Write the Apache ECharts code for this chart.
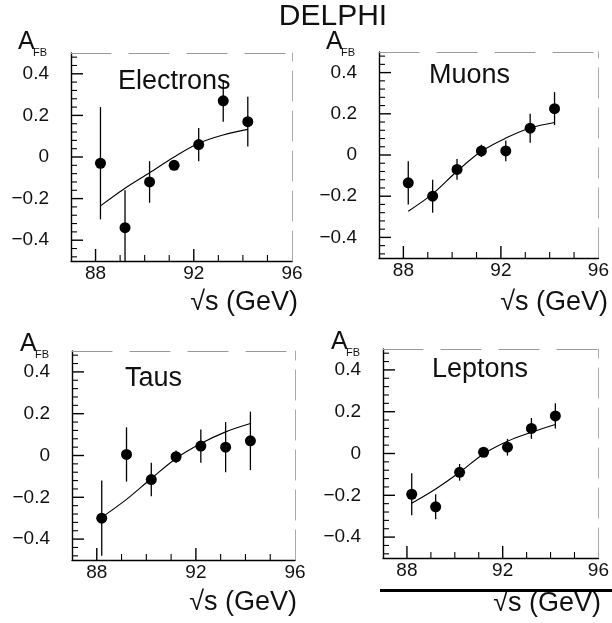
<!DOCTYPE html>
<html><head><meta charset="utf-8">
<script src="https://cdn.jsdelivr.net/npm/echarts@6/dist/echarts.min.js"></script>
<style>html,body{margin:0;padding:0;background:#fff}#c{width:612px;height:623px}</style>
</head><body><div id="c"></div>
<script>
// ---- data ----
const energies = [88.2, 89.2, 90.2, 91.2, 92.2, 93.2, 94.2];

const electronsA   = [-0.03, -0.34, -0.12, -0.04, 0.06, 0.27, 0.17];
const electronsErr = [0.27, 0.18, 0.10, 0.02, 0.08, 0.10, 0.12];
const electronsFit = [-0.235, -0.15, -0.076, 0.0, 0.066, 0.106, 0.133];

const muonsA   = [-0.135, -0.20, -0.07, 0.02, 0.02, 0.13, 0.225];
const muonsErr = [0.105, 0.08, 0.05, 0.03, 0.05, 0.07, 0.08];
const muonsFit = [-0.273, -0.189, -0.079, 0.018, 0.082, 0.131, 0.158];

const tausA   = [-0.30, 0.005, -0.115, -0.006, 0.045, 0.04, 0.07];
const tausErr = [0.18, 0.13, 0.08, 0.03, 0.08, 0.12, 0.14];
const tausFit = [-0.296, -0.21, -0.11, -0.014, 0.057, 0.113, 0.153];

const leptonsA   = [-0.195, -0.255, -0.09, 0.006, 0.03, 0.12, 0.18];
const leptonsErr = [0.10, 0.06, 0.04, 0.02, 0.04, 0.05, 0.06];
const leptonsFit = [-0.238, -0.17, -0.09, -0.002, 0.059, 0.102, 0.139];

const xTickLabels = [88, 92, 96];
const xMajorTicks = [88, 92];
const xMinorTicks = [89, 90, 91, 93, 94, 95];
const yTickLabels = [-0.4, -0.2, 0, 0.2, 0.4];
const panelNames = ['Electrons', 'Muons', 'Taus', 'Leptons'];
const xTitle = '√s (GeV)';

// ---- layout ----
const FONT = 'Liberation Sans';
const INK = '#111';
const X_MIN = 87, X_MAX = 96, Y_MIN = -0.5, Y_MAX = 0.5;
const panels = [
  {name: panelNames[0], a: electronsA, err: electronsErr, fit: electronsFit,
   grid: {left: 71, top: 53, width: 221, height: 208},
   title: [118, 82], afb: [18, 42], xt: [298, 303]},
  {name: panelNames[1], a: muonsA, err: muonsErr, fit: muonsFit,
   grid: {left: 379, top: 52, width: 220, height: 206},
   title: [429, 76], afb: [326, 42], xt: [608, 303]},
  {name: panelNames[2], a: tausA, err: tausErr, fit: tausFit,
   grid: {left: 72, top: 351, width: 223, height: 209},
   title: [125, 379], afb: [20, 344], xt: [297, 603]},
  {name: panelNames[3], a: leptonsA, err: leptonsErr, fit: leptonsFit,
   grid: {left: 383, top: 349, width: 218, height: 209},
   title: [432, 370], afb: [331, 342], xt: [601, 604]}
];

function yMinorList() {
  const out = [];
  for (let k = -12; k <= 12; k++) {
    if (Math.abs(k) % 5 !== 0) out.push(Math.round(k * 4) / 100);
  }
  return out;
}
// tick marks: [xValue, yValue, kind(0 major / 1 minor), dir(0 = x-axis, 1 = y-axis)]
function tickItems() {
  const t = [];
  xMajorTicks.forEach(v => t.push([v, Y_MIN, 0, 0]));
  xMinorTicks.forEach(v => t.push([v, Y_MIN, 1, 0]));
  yTickLabels.forEach(v => t.push([X_MIN, v, 0, 1]));
  yMinorList().forEach(v => t.push([X_MIN, v, 1, 1]));
  return t;
}
const TICK_LEN = [12, 6];

const fmtY = v => v === 0 ? '0' : (v < 0 ? '−' : '') + Math.abs(v).toFixed(1);

const grids = [], xAxes = [], yAxes = [], series = [], graphics = [];

panels.forEach((p, i) => {
  grids.push(Object.assign({}, p.grid));
  const xb = xAxes.length, yb = yAxes.length;
  xAxes.push({type: 'value', gridIndex: i, position: 'bottom', min: X_MIN, max: X_MAX, splitLine: {show: false},
    axisLine: {show: true, onZero: false, lineStyle: {color: '#000', width: 1.4}},
    axisTick: {show: false},
    axisLabel: {show: true, customValues: xTickLabels.slice(), margin: 3, fontSize: 19, fontFamily: FONT, color: INK}});
  yAxes.push({type: 'value', gridIndex: i, position: 'left', min: Y_MIN, max: Y_MAX, splitLine: {show: false},
    axisLine: {show: true, onZero: false, lineStyle: {color: '#000', width: 1.4}},
    axisTick: {show: false},
    axisLabel: {show: true, customValues: yTickLabels.slice(), margin: 22, fontSize: 19, fontFamily: FONT, color: INK, formatter: fmtY}});
  xAxes.push({type: 'value', gridIndex: i, position: 'top', min: X_MIN, max: X_MAX, splitLine: {show: false},
    axisLine: {show: true, onZero: false, lineStyle: {color: '#999', width: 1, type: [40, 18]}},
    axisTick: {show: false}, axisLabel: {show: false}});
  yAxes.push({type: 'value', gridIndex: i, position: 'right', min: Y_MIN, max: Y_MAX, splitLine: {show: false},
    axisLine: {show: true, onZero: false, lineStyle: {color: '#aaa', width: 1, type: [30, 10]}},
    axisTick: {show: false}, axisLabel: {show: false}});

  // tick marks placed through the axes' scales
  series.push({type: 'custom', xAxisIndex: xb, yAxisIndex: yb, z: 1, silent: true,
    data: tickItems(),
    renderItem: (params, api) => {
      const pt = api.coord([api.value(0), api.value(1)]);
      const len = TICK_LEN[api.value(2)];
      const vertical = api.value(3) === 0;
      return {type: 'line',
        shape: vertical ? {x1: pt[0], y1: pt[1], x2: pt[0], y2: pt[1] - len}
                        : {x1: pt[0], y1: pt[1], x2: pt[0] + len, y2: pt[1]},
        style: {stroke: '#000', lineWidth: api.value(2) === 0 ? 1.4 : 1.1}};
    }});
  series.push({type: 'line', xAxisIndex: xb, yAxisIndex: yb, smooth: 0.35, symbol: 'none',
    lineStyle: {color: '#000', width: 1.1}, z: 2, silent: true,
    data: energies.map((e, j) => [e, p.fit[j]])});
  series.push({type: 'custom', xAxisIndex: xb, yAxisIndex: yb, z: 3, silent: true,
    data: energies.map((e, j) => [e, p.a[j] - p.err[j], p.a[j] + p.err[j]]),
    renderItem: (params, api) => {
      const p1 = api.coord([api.value(0), api.value(1)]);
      const p2 = api.coord([api.value(0), api.value(2)]);
      const r = params.coordSys;
      const y1 = Math.min(Math.max(p1[1], r.y), r.y + r.height);
      const y2 = Math.min(Math.max(p2[1], r.y), r.y + r.height);
      return {type: 'line', shape: {x1: p1[0], y1: y1, x2: p2[0], y2: y2},
        style: {stroke: '#000', lineWidth: 1.3}};
    }});
  series.push({type: 'scatter', xAxisIndex: xb, yAxisIndex: yb, symbol: 'circle', symbolSize: 11,
    itemStyle: {color: '#000', opacity: 1}, z: 4, silent: true,
    data: energies.map((e, j) => [e, p.a[j]])});

  graphics.push({type: 'text', x: p.title[0], y: p.title[1],
    style: {text: p.name, fontSize: 27, fontFamily: FONT, fill: INK, textAlign: 'left', textVerticalAlign: 'middle'}});
  graphics.push({type: 'text', x: p.afb[0], y: p.afb[1],
    style: {text: 'A', fontSize: 25, fontFamily: FONT, fill: INK, textAlign: 'left', textVerticalAlign: 'middle'}});
  graphics.push({type: 'text', x: p.afb[0] + 15, y: p.afb[1] + 11,
    style: {text: 'FB', fontSize: 11, fontFamily: FONT, fill: INK, textAlign: 'left', textVerticalAlign: 'middle'}});
  graphics.push({type: 'text', x: p.xt[0], y: p.xt[1],
    style: {text: xTitle, fontSize: 27, fontFamily: FONT, fill: INK, textAlign: 'right', textVerticalAlign: 'middle'}});
});

graphics.push({type: 'text', x: 333, y: 17,
  style: {text: 'DELPHI', fontSize: 30, fontFamily: FONT, fill: INK, textAlign: 'center', textVerticalAlign: 'middle'}});
graphics.push({type: 'rect', shape: {x: 380, y: 589, width: 232, height: 3}, style: {fill: '#000'}});

const chart = echarts.init(document.getElementById('c'));
chart.setOption({animation: false, grid: grids, xAxis: xAxes, yAxis: yAxes, series: series, graphic: graphics});
</script></body></html>
